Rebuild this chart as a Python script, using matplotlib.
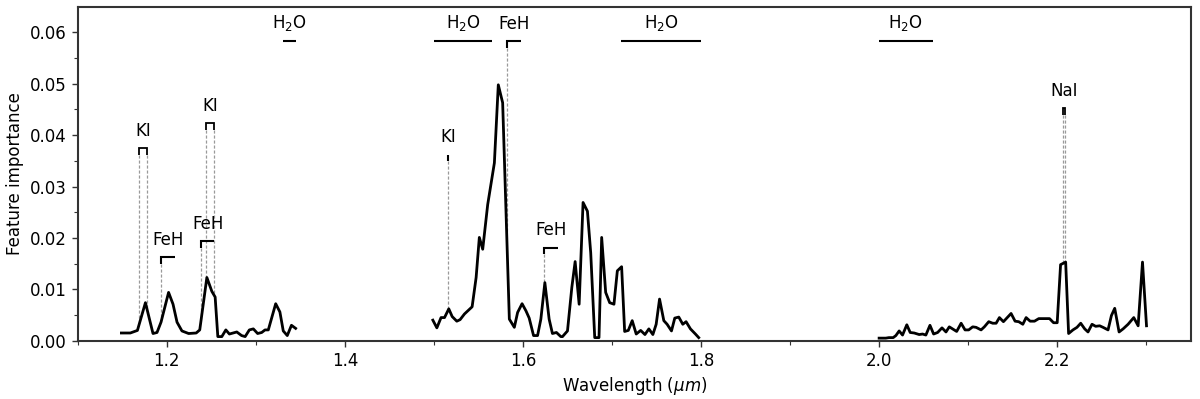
import numpy as np
import matplotlib
matplotlib.use("Agg")
import matplotlib.pyplot as plt

# ---- data: wavelength (um) and feature importance, three segments ----
wl_j = [1.149, 1.159, 1.167, 1.176, 1.1845, 1.189, 1.1935, 1.202, 1.207, 1.2115,
        1.217, 1.2245, 1.233, 1.237, 1.245, 1.2506, 1.2543, 1.2573, 1.2618, 1.2663,
        1.2703, 1.2786, 1.284, 1.288, 1.2927, 1.2972, 1.302, 1.3066, 1.3103, 1.314,
        1.3223, 1.327, 1.3308, 1.3353, 1.340, 1.3447]
fi_j = [0.0015, 0.0015, 0.0020, 0.0074, 0.0014, 0.0016, 0.0036, 0.0094, 0.0071, 0.0036,
        0.0019, 0.0014, 0.0015, 0.0021, 0.0123, 0.0096, 0.0085, 0.0008, 0.0008, 0.0021,
        0.0013, 0.0017, 0.0010, 0.0008, 0.0021, 0.0023, 0.0014, 0.0016, 0.0021, 0.0021,
        0.0072, 0.0056, 0.0019, 0.0010, 0.0030, 0.0024]

wl_h = [1.4988, 1.5033, 1.508, 1.5119, 1.5167, 1.5205, 1.5257, 1.5294, 1.5343, 1.5429,
        1.5474, 1.551, 1.5548, 1.5604, 1.5679, 1.5723, 1.5772, 1.5847, 1.5903, 1.594,
        1.599, 1.6034, 1.607, 1.6119, 1.6164, 1.6201, 1.6246, 1.6294, 1.6331, 1.6376,
        1.6425, 1.6444, 1.650, 1.6549, 1.6586, 1.6631, 1.6675, 1.6724, 1.6761, 1.6806,
        1.6854, 1.6884, 1.6929, 1.6974, 1.7022, 1.706, 1.7108, 1.7142, 1.7183, 1.7227,
        1.7272, 1.7322, 1.737, 1.7414, 1.7459, 1.7496, 1.7534, 1.7582, 1.7619, 1.7668,
        1.7705, 1.775, 1.7795, 1.7832, 1.7881, 1.7937, 1.7974]
fi_h = [0.0040, 0.0025, 0.0045, 0.0045, 0.0062, 0.0047, 0.0038, 0.0041, 0.0052, 0.0066,
        0.0123, 0.0201, 0.0178, 0.0265, 0.0346, 0.0498, 0.0463, 0.0042, 0.0026, 0.0055,
        0.0072, 0.0058, 0.0044, 0.0010, 0.0010, 0.0042, 0.0113, 0.0042, 0.0014, 0.0016,
        0.0008, 0.0008, 0.0019, 0.0104, 0.0154, 0.0071, 0.0269, 0.0252, 0.0171, 0.0006,
        0.0006, 0.0201, 0.0094, 0.0074, 0.0071, 0.0136, 0.0144, 0.0018, 0.0020, 0.0039,
        0.0013, 0.0020, 0.0012, 0.0023, 0.0012, 0.0032, 0.0081, 0.0039, 0.0032, 0.0019,
        0.0044, 0.0046, 0.0032, 0.0037, 0.0023, 0.0013, 0.0006]

wl_k = [2.000, 2.0075, 2.011, 2.0158, 2.0188, 2.0225, 2.0263, 2.0311, 2.0349, 2.0394,
        2.045, 2.0488, 2.0525, 2.0571, 2.0612, 2.0657, 2.0706, 2.0751, 2.0788, 2.0871,
        2.0921, 2.0965, 2.1006, 2.1051, 2.1089, 2.1145, 2.1182, 2.1231, 2.1276, 2.1314,
        2.1351, 2.1396, 2.1482, 2.1527, 2.1568, 2.1614, 2.1651, 2.1696, 2.1745, 2.1793,
        2.1914, 2.1959, 2.200, 2.2038, 2.2095, 2.2128, 2.2177, 2.2222, 2.2264, 2.2309,
        2.2346, 2.2391, 2.2432, 2.2477, 2.2515, 2.2571, 2.2609, 2.2646, 2.2695, 2.274,
        2.2796, 2.286, 2.2909, 2.2958, 2.3003]
fi_k = [0.0005, 0.0005, 0.0006, 0.0006, 0.0010, 0.0019, 0.0011, 0.0031, 0.0016, 0.0015,
        0.0012, 0.0013, 0.0011, 0.0030, 0.0013, 0.0016, 0.0025, 0.0017, 0.0027, 0.0018,
        0.0034, 0.0021, 0.0021, 0.0027, 0.0026, 0.0021, 0.0027, 0.0037, 0.0034, 0.0034,
        0.0045, 0.0037, 0.0053, 0.0038, 0.0037, 0.0032, 0.0045, 0.0038, 0.0038, 0.0043,
        0.0043, 0.0035, 0.0035, 0.0148, 0.0153, 0.0014, 0.0021, 0.0026, 0.0034, 0.0023,
        0.0017, 0.0032, 0.0028, 0.0029, 0.0026, 0.0021, 0.0049, 0.0063, 0.0017, 0.0023,
        0.0032, 0.0045, 0.0029, 0.0153, 0.0029]

# ---- annotations ----
h2o_start = [1.330, 1.500, 1.710, 2.000]
h2o_end = [1.345, 1.565, 1.800, 2.060]
h2o_level = [0.0583, 0.0583, 0.0583, 0.0583]

atom_labels = ["KI", "KI", "KI", "NaI"]
atom_lines = [[1.1690, 1.1778], [1.2437, 1.2529], [1.5163], [2.2062, 2.2092]]
atom_level = [0.0375, 0.0423, 0.0362, 0.0453]

feh_head = [1.1938, 1.2386, 1.5817, 1.6239]
feh_end = [1.2095, 1.2535, 1.5978, 1.6395]
feh_level = [0.0163, 0.0194, 0.0583, 0.0181]

FS = 12
plt.rcParams['font.family'] = ['DejaVu Sans']
fig = plt.figure(figsize=(12, 3.99), dpi=100)
ax = fig.add_axes([0.0648, 0.1461, 0.9275, 0.8371])

segments = [(wl_j, fi_j), (wl_h, fi_h), (wl_k, fi_k)]
for w, f in segments:
    ax.plot(w, f, color='black', lw=2.0, zorder=3)


def curve_value(x):
    for w, f in segments:
        if w[0] <= x <= w[-1]:
            return float(np.interp(x, w, f))
    return 0.0


tick = 0.0013
lab_off = 0.0016
brk = dict(color='black', lw=1.5, solid_capstyle='butt', solid_joinstyle='miter')
dash = dict(color='#9a9a9a', lw=0.9, ls=(0, (2.5, 1.5)), zorder=2)

for a, b, lv in zip(h2o_start, h2o_end, h2o_level):
    ax.plot([a, b], [lv, lv], **brk)
    ax.text((a + b) / 2, lv + lab_off, r"H$_2$O", ha='center', va='bottom', fontsize=FS)

for lab, xs, lv in zip(atom_labels, atom_lines, atom_level):
    if len(xs) == 2:
        ax.plot([xs[0], xs[0], xs[1], xs[1]], [lv - tick, lv, lv, lv - tick],
                **dict(brk, lw=1.3))
    else:
        ax.plot([xs[0], xs[0]], [lv - tick, lv], **brk)
    for x in xs:
        ax.plot([x, x], [lv - tick, curve_value(x)], **dash)
    ax.text(np.mean(xs), lv + lab_off, lab, ha='center', va='bottom', fontsize=FS)

for a, b, lv in zip(feh_head, feh_end, feh_level):
    ax.plot([a, a, b], [lv - tick, lv, lv], **brk)
    ax.plot([a, a], [lv - tick, curve_value(a)], **dash)
    ax.text((a + b) / 2, lv + lab_off, "FeH", ha='center', va='bottom', fontsize=FS)

ax.set_xlim(1.1, 2.35)
ax.set_ylim(0, 0.065)
ax.set_xticks([1.2, 1.4, 1.6, 1.8, 2.0, 2.2])
ax.set_xticks(np.arange(1.1, 2.35, 0.1), minor=True)
ax.set_yticks([0.0, 0.01, 0.02, 0.03, 0.04, 0.05, 0.06])
ax.set_yticks(np.arange(0.005, 0.065, 0.01), minor=True)
ax.xaxis.set_major_formatter(matplotlib.ticker.FormatStrFormatter('%.1f'))
ax.yaxis.set_major_formatter(matplotlib.ticker.FormatStrFormatter('%.2f'))
ax.tick_params(axis='both', which='major', labelsize=FS, length=4.3, width=1.0, color='#333333')
ax.tick_params(axis='both', which='minor', length=2.8, width=0.8, color='#333333')
for s in ax.spines.values():
    s.set_color('#333333')
    s.set_linewidth(1.5)

ax.set_xlabel(r"Wavelength ($\mu m$)", fontsize=FS)
ax.set_ylabel("Feature importance", fontsize=FS)

fig.savefig("out.png", dpi=100)
